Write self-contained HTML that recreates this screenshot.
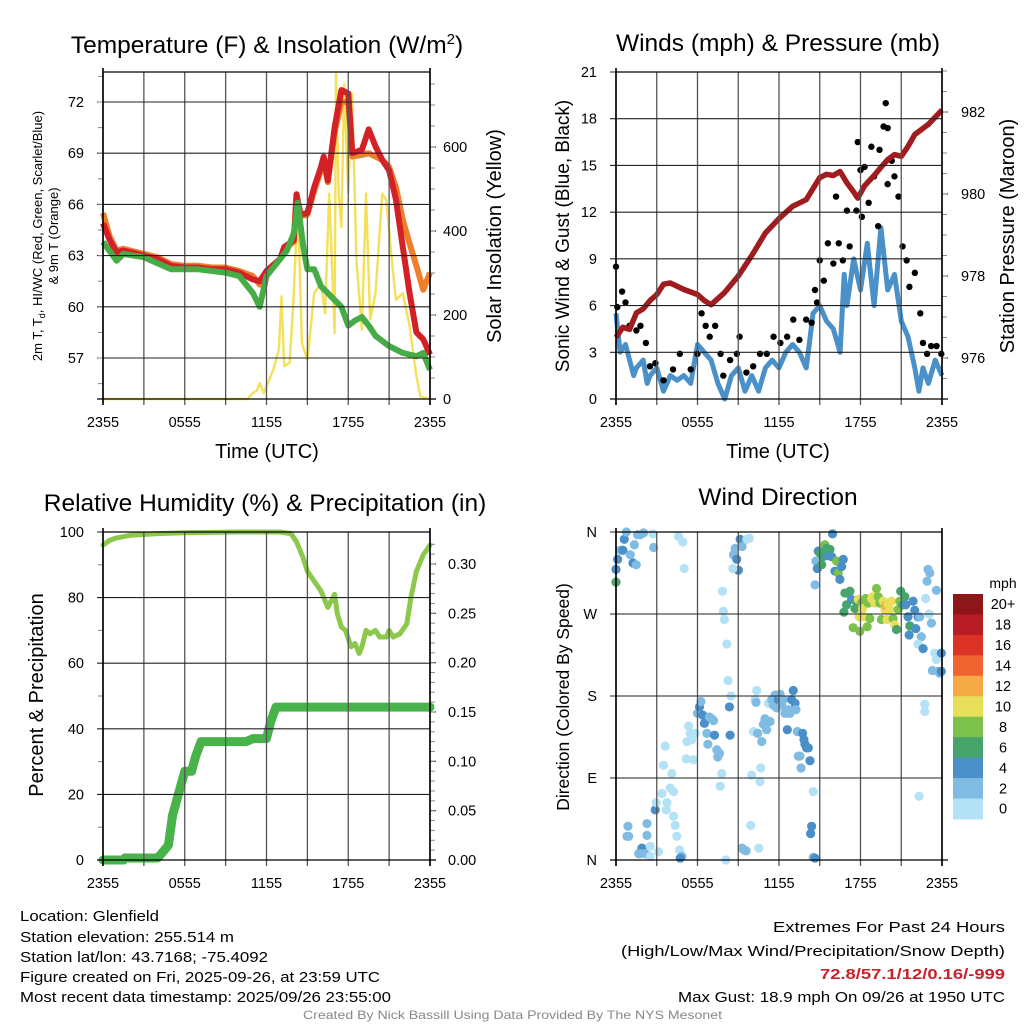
<!DOCTYPE html>
<html><head><meta charset="utf-8"><style>
html,body{margin:0;padding:0;background:#fff;}
svg{display:block;font-family:"Liberation Sans",sans-serif;}
</style></head><body>
<svg id="chart" width="1024" height="1024" viewBox="0 0 1024 1024" xmlns="http://www.w3.org/2000/svg">
<rect width="1024" height="1024" fill="#fff"/>
<g id="layer"></g>
<text x="267" y="53" font-size="24.5" text-anchor="middle">Temperature (F) &amp; Insolation (W/m<tspan dy="-9" font-size="15">2</tspan><tspan dy="9">)</tspan></text>
<text x="778" y="51" font-size="24.5" text-anchor="middle">Winds (mph) &amp; Pressure (mb)</text>
<text x="265" y="511" font-size="24.5" text-anchor="middle">Relative Humidity (%) &amp; Precipitation (in)</text>
<text x="778" y="505" font-size="24.5" text-anchor="middle">Wind Direction</text>
<text x="267" y="458" font-size="20" text-anchor="middle">Time (UTC)</text>
<text x="778" y="458" font-size="20" text-anchor="middle">Time (UTC)</text>
<text transform="translate(42,236) rotate(-90)" font-size="13" text-anchor="middle">2m T, T<tspan dy="3" font-size="9">d</tspan><tspan dy="-3">, HI/WC (Red, Green, Scarlet/Blue)</tspan></text>
<text transform="translate(58,236) rotate(-90)" font-size="13" text-anchor="middle">&amp; 9m T (Orange)</text>
<text transform="translate(501,236) rotate(-90)" font-size="20" text-anchor="middle">Solar Insolation (Yellow)</text>
<text transform="translate(569,236) rotate(-90)" font-size="19" text-anchor="middle">Sonic Wind &amp; Gust (Blue, Black)</text>
<text transform="translate(1014,236) rotate(-90)" font-size="20" text-anchor="middle">Station Pressure (Maroon)</text>
<text transform="translate(43,695) rotate(-90)" font-size="20" text-anchor="middle">Percent &amp; Precipitation</text>
<text transform="translate(569,697) rotate(-90)" font-size="17.5" text-anchor="middle">Direction (Colored By Speed)</text>
<text x="1003" y="588" font-size="14" text-anchor="middle">mph</text>
<g font-size="15" font-family="'Liberation Sans Narrow','Liberation Sans',sans-serif">
<text x="20" y="921" textLength="139" lengthAdjust="spacingAndGlyphs">Location: Glenfield</text>
<text x="20" y="942" textLength="214" lengthAdjust="spacingAndGlyphs">Station elevation: 255.514 m</text>
<text x="20" y="962" textLength="248" lengthAdjust="spacingAndGlyphs">Station lat/lon: 43.7168; -75.4092</text>
<text x="20" y="982" textLength="360" lengthAdjust="spacingAndGlyphs">Figure created on Fri, 2025-09-26, at 23:59 UTC</text>
<text x="20" y="1002" textLength="371" lengthAdjust="spacingAndGlyphs">Most recent data timestamp: 2025/09/26 23:55:00</text>
</g>
<g font-size="15" font-family="'Liberation Sans Narrow','Liberation Sans',sans-serif">
<text x="773" y="932" textLength="232" lengthAdjust="spacingAndGlyphs">Extremes For Past 24 Hours</text>
<text x="621" y="956" textLength="384" lengthAdjust="spacingAndGlyphs">(High/Low/Max Wind/Precipitation/Snow Depth)</text>
<text x="820" y="979" textLength="185" lengthAdjust="spacingAndGlyphs" fill="#c8232c" font-weight="bold">72.8/57.1/12/0.16/-999</text>
<text x="678" y="1002" textLength="327" lengthAdjust="spacingAndGlyphs">Max Gust: 18.9 mph On 09/26 at 1950 UTC</text>
</g>
<text x="303" y="1019" font-size="12" fill="#888" textLength="419" lengthAdjust="spacingAndGlyphs" font-family="'Liberation Sans Narrow','Liberation Sans',sans-serif">Created By Nick Bassill Using Data Provided By The NYS Mesonet</text>
</svg>
<script>
// ---- data (hours since 2355 UTC) ----
var timeLabels = ["2355","0555","1155","1755","2355"];
var tempTimes = [0,0.5,1,1.5,2,3,4,5,6,7,8,9,10,11,11.5,12,13,13.3,14,14.2,14.5,15,15.5,16,16.2,16.5,17,17.5,18,18.3,19,19.5,20,20.5,21,21.5,22,22.5,23,23.5,24];
var tempRed = [64.9,63.9,63.2,63.3,63.2,63.0,62.8,62.4,62.3,62.3,62.2,62.2,62.0,61.6,61.5,62.1,62.8,63.5,63.9,66.6,65.4,65.5,67.0,68.2,68.8,67.4,70.5,72.7,72.5,69.0,69.2,70.4,69.4,68.6,68.0,66.3,63.5,60.8,58.5,58.1,57.2];
var tempOrange = [65.5,64.1,63.3,63.4,63.3,63.1,62.9,62.5,62.4,62.4,62.3,62.3,62.1,61.8,61.3,62.1,62.8,63.4,63.8,66.2,65.3,65.4,66.8,68.0,68.5,67.3,70.2,72.0,72.0,68.8,68.9,69.0,68.8,68.6,68.2,67.0,65.1,63.7,62.4,61.0,62.0];
var dewTimes = [0,1,1.5,3,5,7,9,10,11,11.5,12,13,13.5,14,14.3,14.7,15,15.5,16,16.5,17,17.5,18,18.5,19,19.5,20,21,22,23,23.5,24];
var dewGreen = [63.8,62.7,63.1,62.9,62.2,62.2,62.0,61.8,60.8,60.0,61.8,62.8,63.3,64.3,66.1,63.5,62.2,62.2,61.2,60.8,60.4,60.0,58.9,59.2,59.4,58.9,58.3,57.7,57.3,57.1,57.3,56.3];
var solarTimes = [0,10.6,11,11.3,11.5,11.8,12.5,12.9,13.1,13.3,13.7,14,14.3,14.6,15,15.5,16,16.3,16.6,17,17.1,17.3,17.5,17.7,18,18.3,18.6,19,19.3,19.6,20,20.5,20.8,21.2,21.5,22,22.5,23,23.3,24];
var solarVals = [0,0,14,20,38,14,70,117,244,78,86,252,473,133,93,252,275,204,489,157,774,489,410,750,489,727,331,165,489,190,252,489,473,331,236,252,173,54,6,0];
var tempTicks = [57,60,63,66,69,72];
var solarTicks = [0,200,400,600];

var windTimes = [0,0.3,0.7,1,1.3,1.5,2,2.3,2.5,3,3.5,4,4.5,5,5.5,6,6.5,7,7.5,8,8.5,9,9.5,10,10.5,11,11.5,12,12.5,13,13.5,14,14.3,14.5,15,15.5,16,16.5,16.8,17,17.5,18,18.5,19,19.5,20,20.5,21,21.5,22,22.3,22.6,23,23.5,24];
var windVals = [5.5,3.0,3.5,2.5,1.5,2.0,2.5,1.0,1.5,2.0,0.5,1.5,1.2,1.5,1.0,3.5,3.0,2.5,1.0,0.0,1.5,2.0,0.5,1.5,0.5,2.0,2.5,2.0,3.0,3.5,3.0,2.0,4.0,5.5,6.0,5.0,4.5,3.0,8.0,6.0,9.0,7.0,10.0,6.0,11.0,7.0,8.0,5.0,4.0,2.0,0.5,2.0,1.0,2.5,1.5];
var gustTimes = [0,0.1,0.45,0.7,1,1.5,1.8,2.2,2.5,2.9,3.5,4.2,4.7,5.5,6,6.3,6.6,6.9,7.3,7.7,7.9,8.4,8.9,9.1,9.6,10.1,10.6,11.1,11.6,12.1,12.6,13.05,13.5,14,14.4,14.65,14.8,15,15.3,15.6,16,16.2,16.4,16.7,17,17.2,17.7,17.8,18,18.1,18.3,18.6,18.8,19,19.3,19.4,19.7,19.86,20,20,20.3,20.5,20.8,21.1,21.4,21.6,22,22.4,22.6,22.9,23.2,23.6,23.95];
var gustVals = [8.5,5.9,6.9,6.2,4.7,4.4,4.7,3.6,2.1,2.3,1.2,1.9,2.9,1.9,2.9,5.5,4.7,4.0,4.7,2.9,1.5,2.5,2.9,4.0,1.7,2.1,2.9,2.9,4.0,3.6,4.0,5.1,3.8,5.1,4.9,7.0,6.2,8.9,7.6,10.0,8.7,13.0,10.0,8.9,12.1,9.8,12.1,16.5,14.7,11.7,14.9,12.6,16.2,14.3,11.1,16.0,17.5,19.0,17.4,13.8,15.3,14.3,13.0,9.8,8.9,7.2,8.1,5.5,3.6,2.9,3.4,3.4,2.9];
var presTimes = [0,0.5,1,1.5,2,2.5,3,3.5,4,5,6,6.5,7,8,9,10,11,12,13,14,15,15.5,16,16.5,17,17.5,17.8,18.3,19,19.5,20,20.5,21,21.5,22,23,24];
var presVals = [976.5,976.75,976.7,977.1,977.2,977.4,977.55,977.8,977.83,977.67,977.55,977.4,977.3,977.6,978.0,978.5,979.05,979.4,979.7,979.86,980.4,980.48,980.45,980.55,980.27,980.05,979.9,980.2,980.45,980.65,980.84,980.96,980.92,981.16,981.45,981.7,982.05];
var windTicks = [0,3,6,9,12,15,18,21];
var presTicks = [976,978,980,982];

var rhTimes = [0,0.5,1,2,4,6,10,13,13.8,14.2,14.7,15,15.5,16,16.5,17,17.2,17.5,17.8,18.2,18.5,18.8,19,19.3,19.6,20,20.3,20.8,21,21.3,21.8,22.3,22.6,23,23.5,24];
var rhVals = [96,97.5,98.2,99,99.5,99.8,100,100,99.5,97,92,88,85,82,77,81,75,71,70,65,66,63,65,70,69,70,68,68,70,68,69,72,80,88,93,96];
var precipTimes = [0,1.5,1.6,4,4.2,4.8,5.1,5.5,6,6.5,6.8,7.2,10.5,11,12,12.3,12.7,24];
var precipVals = [0,0,0.002,0.002,0.005,0.015,0.045,0.065,0.09,0.09,0.105,0.12,0.12,0.123,0.123,0.14,0.155,0.155];
var rhTicks = [0,20,40,60,80,100];
var precipTicks = [0,0.05,0.10,0.15,0.20,0.25,0.30];

var dirTimes = [0,0,0.12,0.32,0.51,0.61,0.76,1.05,1.25,1.35,1.49,1.59,1.79,2.03,2.72,2.77,4.6,4.92,5.02,
7.84,7.91,7.98,8.16,8.25,8.35,8.47,8.4,7.79,7.67,8.08,8.65,8.77,8.89,9.01,9.14,9.28,9.63,9.82,8.6,
0.88,0.81,0.93,1.67,1.91,1.79,2.16,2.28,2.28,2.52,2.52,2.89,2.96,3.13,3.38,3.5,3.62,3.7,3.75,3.99,4.11,4.24,4.24,4.36,4.48,4.68,4.85,4.73,
5.17,5.22,5.34,5.46,5.58,5.71,5.83,6.0,6.15,6.25,6.39,6.51,6.69,6.76,6.88,7.05,7.18,7.25,7.42,7.49,7.62,
9.28,9.43,9.58,9.92,9.99,10.12,10.24,10.31,10.36,10.43,10.51,10.6,10.65,10.73,10.85,10.97,11.09,11.22,11.34,11.46,11.58,11.71,11.83,11.95,12.07,12.2,12.32,12.44,12.56,12.61,12.69,12.81,12.93,13.05,13.18,13.25,13.35,13.42,13.54,13.62,13.74,13.84,13.91,14.03,14.16,14.28,14.4,14.33,14.52,14.52,14.65,
14.65,14.72,14.82,14.89,15.01,15.14,15.26,15.38,15.5,15.63,15.75,15.87,15.94,16.12,16.24,16.36,16.48,16.61,16.73,
16.78,16.85,16.97,17.1,17.22,17.34,17.46,17.59,17.71,17.83,17.9,17.95,18.07,18.15,18.25,18.39,18.49,18.56,18.69,18.81,18.93,19.05,19.18,19.3,19.42,19.54,19.67,19.79,19.86,19.96,20.03,20.16,20.28,20.4,20.52,20.65,20.77,20.89,20.96,21.09,21.26,21.33,21.5,21.63,21.58,21.87,21.99,22.07,22.24,22.36,22.48,22.24,22.61,
22.73,22.73,22.31,22.8,22.9,22.97,23.1,23.05,23.22,23.46,23.59,23.59,23.71,23.83,23.95,23.29,23.95];
var dirDeg = [305,319,330,340,340,352,360,335,326,346,324,357,357,359,358,343,355,349,320,
295,273,264,237,197,168,180,137,95,81,0,335,342,330,318,352,344,352,353,320,
37,26,26,7,13,7,7,27,40,4,15,55,63,9,73,104,125,55,63,79,95,75,48,38,26,11,4,2,
111,130,147,139,132,110,139,161,168,174,159,150,139,127,157,155,153,137,121,113,117,
13,11,10,38,93,141,176,173,186,139,13,86,101,130,149,155,143,172,152,176,170,181,167,176,182,170,176,161,161,143,165,161,176,186,172,165,141,114,114,101,139,132,127,123,123,109,37,29,75,3,2,
302,328,320,339,337,324,333,346,342,334,341,333,358,317,328,315,308,322,330,
272,293,280,293,295,286,255,276,284,286,267,251,282,276,267,287,256,282,265,287,289,282,298,289,282,264,284,275,279,264,280,275,284,265,258,253,275,284,295,280,289,280,267,257,247,284,274,254,267,267,245,237,232,
171,163,70,287,306,319,315,270,260,227,296,220,207,205,227,208,207];
var dirSpeed = [7,5,5,3,5,5,3,3,5,3,3,3,3,3,1,3,1,1,1,
1,1,1,1,1,5,1,5,1,1,1,3,3,5,5,5,3,1,1,1,
3,3,3,3,5,3,3,3,3,1,1,5,1,1,1,1,1,1,1,1,1,1,1,1,1,1,3,5,
1,1,1,1,1,1,1,3,5,3,5,5,3,3,3,3,3,5,3,3,3,
3,3,3,1,1,1,1,3,1,3,1,1,1,3,3,3,3,1,3,3,3,3,3,5,3,3,3,3,3,5,3,3,5,5,5,3,3,3,3,3,5,5,5,5,5,5,5,5,1,3,5,
3,3,5,5,7,7,7,9,7,5,7,5,5,5,9,9,5,5,5,
7,7,7,7,7,5,9,7,7,11,11,9,9,11,11,9,9,9,9,11,11,11,9,9,9,9,11,11,13,11,11,11,11,9,11,7,9,9,7,7,7,5,5,7,5,5,5,5,5,3,3,1,5,
1,1,1,1,3,3,3,1,3,1,3,1,3,3,5,3,5];
var dirTickLabels = ["N","E","S","W","N"];
var dirTickDeg = [0,90,180,270,360];
var speedBins = ["0","2","4","6","8","10","12","14","16","18","20+"];
var binColors = ["#b3e2f7","#80bbe3","#4a8fc7","#47a56c","#7cc14b","#e7df59","#f6aa46","#ee632f","#dc3327","#b81c24","#8e151a"];

// ---- rendering ----
var NS = "http://www.w3.org/2000/svg";
var layer = document.getElementById("layer");
function mk(tag, attrs, parent) {
  var e = document.createElementNS(NS, tag);
  for (var k in attrs) e.setAttribute(k, attrs[k]);
  (parent || layer).appendChild(e);
  return e;
}
function txt(s, x, y, size, anchor, parent) {
  var t = mk("text", {x: x, y: y, "font-size": size, "text-anchor": anchor}, parent);
  t.textContent = s;
  return t;
}
function linScale(d0, d1, r0, r1) { return function (v) { return r0 + (v - d0) / (d1 - d0) * (r1 - r0); }; }
function pathFrom(xsArr, ysArr, xf, yf) {
  var d = "";
  for (var i = 0; i < xsArr.length; i++) d += (i ? "L" : "M") + xf(xsArr[i]).toFixed(1) + "," + yf(ysArr[i]).toFixed(1);
  return d;
}

function frame(P, name) {
  var g = mk("g", {});
  
  
  var xf = linScale(0, 24, P.x0, P.x1);
  for (var h = 0; h <= 24; h += 3) {
    var x = xf(h);
    var gl = mk("line", {x1: x, x2: x, y1: P.y0, y2: P.y1 + 6, stroke: "#555", "stroke-width": 1.3}, g);
    
    
  }
  for (var i = 0; i < timeLabels.length; i++) {
    var lt = txt(timeLabels[i], xf(i * 6), P.y1 + 28, 14.5, "middle", g);
    
    
  }
  return {g: g, xf: xf};
}
function hgrid(g, P, ticks, yf, labelX, fmt, anchor, gridOn, side) {
  for (var i = 0; i < ticks.length; i++) {
    var y = yf(ticks[i]);
    if (gridOn) {
      var l = mk("line", {x1: P.x0 - 6, x2: P.x1, y1: y, y2: y, stroke: "#222", "stroke-width": 1.1}, g);
      
      
    } else {
      var tk = mk("line", {x1: side > 0 ? P.x1 : P.x0 - 6, x2: side > 0 ? P.x1 + 6 : P.x0, y1: y, y2: y, stroke: "#222", "stroke-width": 1.1}, g);
      
      
    }
    var t = txt(fmt(ticks[i]), labelX, y + 5, 14.5, anchor, g);
    
    
  }
}
function minorTicks(g, x, ys, dir) {
  for (var i = 0; i < ys.length; i++) {
    mk("line", {x1: x, x2: x + dir * 5, y1: ys[i], y2: ys[i], stroke: "#888", "stroke-width": 1}, g);
  }
}
function axesBox(g, P) {
  mk("line", {x1: P.x0, x2: P.x0, y1: P.y0 - 4, y2: P.y1 + 6, stroke: "#000", "stroke-width": 1.6}, g);
  mk("line", {x1: P.x1, x2: P.x1, y1: P.y0 - 4, y2: P.y1 + 6, stroke: "#000", "stroke-width": 1.6}, g);
  mk("line", {x1: P.x0, x2: P.x1, y1: P.y0, y2: P.y0, stroke: "#000", "stroke-width": 1.3}, g);
  mk("line", {x1: P.x0 - 6, x2: P.x1 + 6, y1: P.y1, y2: P.y1, stroke: "#000", "stroke-width": 1.3}, g);
}

// Panel 1: temperature & insolation
(function () {
  var P = {x0: 103, x1: 430, y0: 72, y1: 399};
  var F = frame(P, "temp-panel"), g = F.g, xf = F.xf;
  var yT = linScale(57, 72, 358, 102);
  var yS = linScale(0, 600, 399, 147);
  hgrid(g, P, tempTicks, yT, 84, String, "end", true, -1);
  hgrid(g, P, solarTicks, yS, 443, String, "start", false, 1);
  var mt = []; for (var v = 55.5; v <= 73.5; v += 1.5) mt.push(yT(v)); minorTicks(g, P.x0, mt, -1);
  var ms = []; for (var w = 50; w <= 750; w += 50) ms.push(yS(w)); minorTicks(g, P.x1, ms, 1);
  var s = mk("path", {d: pathFrom(solarTimes, solarVals, xf, yS), fill: "none", stroke: "#f5e05a", "stroke-width": 2.4, "stroke-linejoin": "round"});
  
  
  var o = mk("path", {d: pathFrom(tempTimes, tempOrange, xf, yT), fill: "none", stroke: "#f07f2c", "stroke-width": 6, "stroke-linejoin": "round"});
  
  
  var r = mk("path", {d: pathFrom(tempTimes, tempRed, xf, yT), fill: "none", stroke: "#d42027", "stroke-width": 6, "stroke-linejoin": "round"});
  
  
  var d = mk("path", {d: pathFrom(dewTimes, dewGreen, xf, yT), fill: "none", stroke: "#46ad46", "stroke-width": 6, "stroke-linejoin": "round"});
  
  
  layer.appendChild(g);
  axesBox(g, P);
})();

// Panel 2: winds & pressure
(function () {
  var P = {x0: 616, x1: 942, y0: 72, y1: 399};
  var F = frame(P, "wind-panel"), g = F.g, xf = F.xf;
  var yW = linScale(0, 21, 399, 72);
  var yP = linScale(976, 982, 358, 112);
  hgrid(g, P, windTicks, yW, 597, String, "end", true, -1);
  hgrid(g, P, presTicks, yP, 961, String, "start", false, 1);
  var mp = []; for (var p = 975.5; p <= 983; p += 0.5) mp.push(yP(p)); minorTicks(g, P.x1, mp, 1);
  var b = mk("path", {d: pathFrom(windTimes, windVals, xf, yW), fill: "none", stroke: "#4a90c9", "stroke-width": 5, "stroke-linejoin": "round"});
  
  
  for (var i = 0; i < gustTimes.length; i++) {
    var c = mk("circle", {cx: xf(gustTimes[i]), cy: yW(gustVals[i]), r: 3.2, fill: "#000"});
    
    
  }
  var m = mk("path", {d: pathFrom(presTimes, presVals, xf, yP), fill: "none", stroke: "#a01c1f", "stroke-width": 5.5, "stroke-linejoin": "round"});
  
  
  layer.appendChild(g);
  axesBox(g, P);
})();

// Panel 3: RH & precip
(function () {
  var P = {x0: 103, x1: 430, y0: 532, y1: 860};
  var F = frame(P, "rh-panel"), g = F.g, xf = F.xf;
  var yR = linScale(0, 100, 860, 532);
  var yPr = linScale(0, 0.30, 860, 564);
  hgrid(g, P, rhTicks, yR, 84, String, "end", true, -1);
  hgrid(g, P, precipTicks, yPr, 448, function (v) { return v.toFixed(2); }, "start", false, 1);
  var mr = []; for (var v = 10; v <= 90; v += 20) mr.push(yR(v)); minorTicks(g, P.x0, mr, -1);
  var mpr = []; for (var q = 0.01; q <= 0.33; q += 0.01) mpr.push(yPr(q)); minorTicks(g, P.x1, mpr, 1);
  var pr = mk("path", {d: pathFrom(precipTimes, precipVals, xf, yPr), fill: "none", stroke: "#47b34a", "stroke-width": 9, "stroke-linejoin": "round", "stroke-linecap": "round"});
  
  
  var rh = mk("path", {d: pathFrom(rhTimes, rhVals, xf, yR), fill: "none", stroke: "#8cc84b", "stroke-width": 5, "stroke-linejoin": "round", "stroke-linecap": "round"});
  
  
  layer.appendChild(g);
  axesBox(g, P);
})();

// Panel 4: wind direction
(function () {
  var P = {x0: 616, x1: 942, y0: 532, y1: 860};
  var F = frame(P, "dir-panel"), g = F.g, xf = F.xf;
  var yD = linScale(0, 360, 860, 532);
  hgrid(g, P, dirTickDeg, yD, 597, function (v) { return dirTickLabels[dirTickDeg.indexOf(v)]; }, "end", true, -1);
  for (var i = 0; i < dirTimes.length; i++) {
    var bi = Math.min(10, Math.floor(dirSpeed[i] / 2));
    var c = mk("circle", {cx: xf(dirTimes[i]), cy: yD(dirDeg[i]), r: 4.6, fill: binColors[bi]});
    
    
  }
  layer.appendChild(g);
  axesBox(g, P);
  // colorbar
  var cb = mk("g", {});
  
  
  var top = 594, h = 20.45;
  for (var k = 0; k < speedBins.length; k++) {
    var idx = speedBins.length - 1 - k;
    var r = mk("rect", {x: 953, y: top + k * h, width: 30, height: h + 0.5, fill: binColors[idx]}, cb);
    
    
    var t = txt(speedBins[idx], 1003, top + k * h + h / 2 + 5, 14.5, "middle", cb);
    
    
  }
})();
</script>
</body></html>
